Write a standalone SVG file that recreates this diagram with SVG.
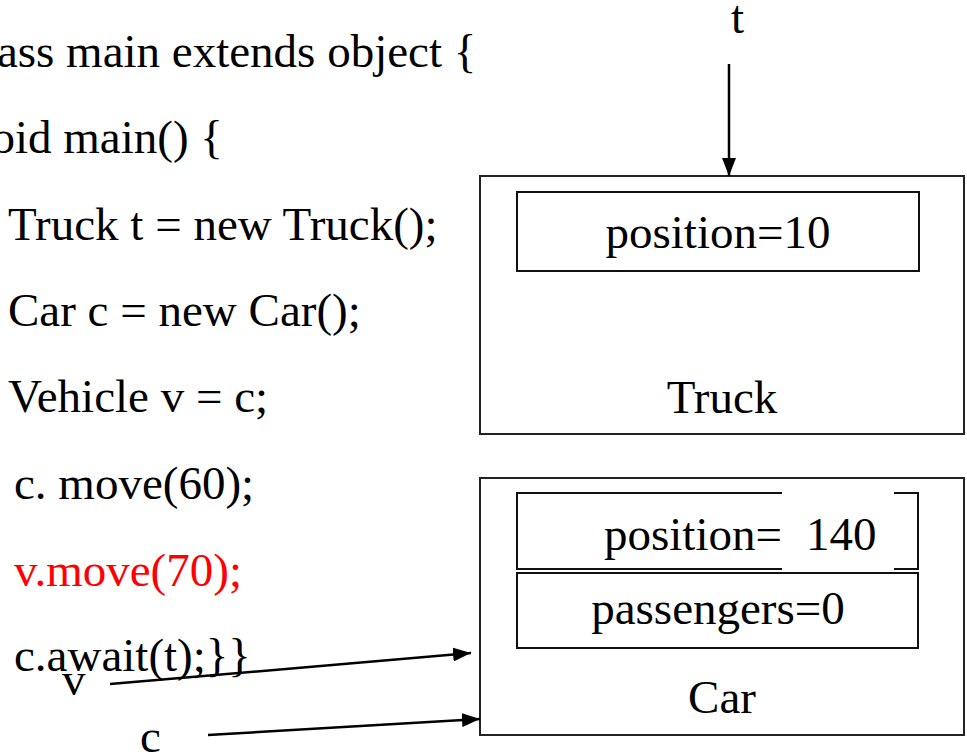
<svg xmlns="http://www.w3.org/2000/svg" width="967" height="752" viewBox="0 0 967 752" font-family="'Liberation Serif', 'Times New Roman', Tinos, 'DejaVu Serif', serif">
<style>
text{font-family:'Liberation Serif','Times New Roman',Tinos,'DejaVu Serif',serif;font-size:47px;fill:#000}
.red{fill:#ff0000}
.box{fill:#fff;stroke:#222;stroke-width:2}
.in{fill:none;stroke:#111;stroke-width:2}
.c{text-anchor:middle}
.conn line{stroke:#000;stroke-width:2.5}
</style>
<defs>
<marker id="ah" viewBox="0 0 18 14" refX="18" refY="7" markerWidth="18" markerHeight="14" markerUnits="userSpaceOnUse" orient="auto">
<path d="M0,0 L18,7 L0,14 Z" fill="#000"/>
</marker>
</defs>
<rect width="967" height="752" fill="#fff"/>
<g id="code">
<text x="-37" y="67">class main extends object {</text>
<text x="-32" y="153">void main() {</text>
<text x="8" y="240">Truck t = new Truck();</text>
<text x="8" y="326">Car c = new Car();</text>
<text x="8" y="412">Vehicle v = c;</text>
<text x="14" y="499">c. move(60);</text>
<text x="14" y="586" class="red">v.move(70);</text>
<text x="14" y="671">c.await(t);}}</text>
</g>
<g id="truck">
<rect class="box" x="480" y="176" width="484" height="258"/>
<rect class="in" x="517" y="192" width="402" height="79"/>
<text class="c" x="718" y="248">position=10</text>
<text class="c" x="722" y="413">Truck</text>
</g>
<g id="car">
<rect class="box" x="480" y="478" width="484" height="257"/>
<rect class="in" x="517" y="493" width="401" height="76"/>
<rect class="in" x="517" y="573" width="401" height="75"/>
<text x="604" y="550">position=</text>
<rect x="782" y="491" width="112" height="80" fill="#fff"/>
<text x="806" y="550">140</text>
<text class="c" x="718" y="624">passengers=0</text>
<text class="c" x="722" y="713">Car</text>
</g>
<g id="labels">
<text x="731" y="33">t</text>
<text x="62" y="695">v</text>
<text x="140" y="752">c</text>
</g>
<g class="conn" id="connectors">
<line x1="729" y1="64" x2="729" y2="176" marker-end="url(#ah)"/>
<line x1="110" y1="684" x2="471" y2="653" marker-end="url(#ah)"/>
<line x1="208" y1="735" x2="480" y2="719" marker-end="url(#ah)"/>
</g>
</svg>
